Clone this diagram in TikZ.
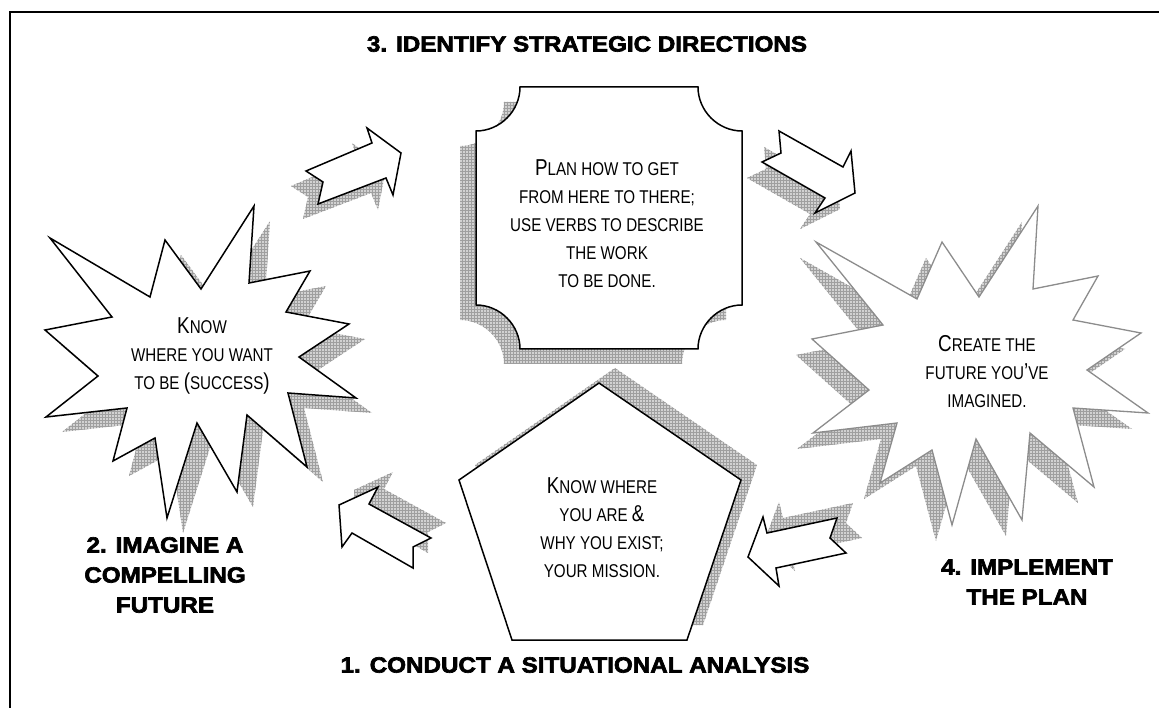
\documentclass[tikz,border=0pt]{standalone}
\usepackage{fontspec}
\setmainfont{Liberation Sans}
\newfontfamily\narrowfont[FakeStretch=0.82]{Liberation Sans}
\newfontfamily\headfont[FakeStretch=1.1,FakeBold=3]{Liberation Sans Bold}
\usetikzlibrary{patterns}

\newcommand\bigletter[1]{{\fontsize{23}{28}\selectfont #1}}

\tikzset{
  hatchshadow/.style={fill=gray!35, postaction={pattern=grid, pattern color=gray!75}},
  outline/.style={draw=black, line width=1.5, fill=white},
  greyline/.style={draw=black!45, line width=1.3, fill=white},
  inside/.style={font=\narrowfont\fontsize{18.5}{28}\selectfont, align=center, inner sep=0},
  heading/.style={font=\headfont\fontsize{22}{30}\selectfont, align=center, inner sep=0}
}

% outlines, in pixels of the page
\def\burstleft{(50,238) -- (150,297) -- (165,240) -- (201,289) -- (254,206) -- (249,283) -- (310,271) -- (286,312) -- (349,324) -- (299,357) -- (356,398) -- (288,393) -- (307,467) -- (247,415) -- (237,492) -- (197,423) -- (167,518) -- (155,438) -- (113,461) -- (127,408) -- (46,417) -- (98,376) -- (45,330) -- (112,317) -- cycle}
\def\burstright{(816,242) -- (917,299) -- (942,242) -- (979,297) -- (1038,206) -- (1033,289) -- (1098,276) -- (1073,320) -- (1141,333) -- (1087,370) -- (1148,413) -- (1073,408) -- (1094,487) -- (1030,433) -- (1022,520) -- (976,439) -- (952,525) -- (932,450) -- (880,483) -- (897,423) -- (813,433) -- (869,390) -- (812,339) -- (883,325) -- cycle}
\def\planbox{(520,87) -- (698,87) .. controls (698,111) and (718,131) .. (742,131) -- (742,305) .. controls (718,305) and (698,325) .. (698,349) -- (520,349) .. controls (520,325) and (500,305) .. (476,305) -- (476,131) .. controls (500,131) and (520,111) .. (520,87) -- cycle}
\def\pentagon{(599,383) -- (741,480) -- (687,640) -- (512,640) -- (459,480) -- cycle}
\def\arrowA{(306,171) -- (323,182) -- (318,204) -- (386,178) -- (393,195) -- (401,153) -- (367,128) -- (372,143) -- cycle}
\def\arrowB{(762,162) -- (781,153) -- (779,131) -- (843,167) -- (851,151) -- (855,193) -- (815,213) -- (825,198) -- cycle}
\def\arrowC{(339,505) -- (378,487) -- (369,504) -- (431,538) -- (413,547) -- (413,568) -- (352,533) -- (342,547) -- cycle}
\def\arrowD{(748,557) -- (763,517) -- (767,533) -- (837,518) -- (830,538) -- (846,553) -- (776,568) -- (779,586) -- cycle}

\begin{document}
\begin{tikzpicture}[x=1pt, y=-1pt]
    \path[use as bounding box] (0,0) rectangle (1159,708);
    \draw[line width=2] (10,708) -- (10,12) -- (1159,12);

    % shadows
    \path[hatchshadow, shift={(16,15)}] \burstleft;
    \path[hatchshadow, shift={(-16,16)}] \burstright;
    \path[hatchshadow, shift={(-16,15)}] \planbox;
    \path[hatchshadow, shift={(16,-15)}] \pentagon;
    \path[hatchshadow, shift={(-15,15)}] \arrowA;
    \path[hatchshadow, shift={(-15,16)}] \arrowB;
    \path[hatchshadow, shift={(15,-15)}] \arrowC;
    \path[hatchshadow, shift={(16,-15)}] \arrowD;

    \path[outline] \burstleft;
    \path[greyline] \burstright;
    \path[outline] \planbox;
    \path[outline] \pentagon;
    \path[outline] \arrowA;
    \path[outline] \arrowB;
    \path[outline] \arrowC;
    \path[outline] \arrowD;

    \node[inside] (future) at (202,356) {\bigletter{K}NOW\\WHERE YOU WANT\\TO BE \bigletter{(}SUCCESS\bigletter{)}};
    \node[inside] (plan) at (607,224) {\bigletter{P}LAN HOW TO GET\\FROM HERE TO THERE;\\USE VERBS TO DESCRIBE\\THE WORK\\TO BE DONE.};
    \node[inside] (mission) at (602,528) {\bigletter{K}NOW WHERE\\YOU ARE \bigletter{\&}\\WHY YOU EXIST;\\YOUR MISSION.};
    \node[inside] (create) at (987,372) {\bigletter{C}REATE THE\\FUTURE YOU\bigletter{’}VE\\IMAGINED.};

    \node[heading] (step3) at (587,44) {3. IDENTIFY STRATEGIC DIRECTIONS};
    \node[heading] (step1) at (575,665) {1. CONDUCT A SITUATIONAL ANALYSIS};
    \node[heading] (step2) at (165,575) {2. IMAGINE A\\COMPELLING\\FUTURE};
    \node[heading] (step4) at (1027,582) {4. IMPLEMENT\\THE PLAN};
\end{tikzpicture}
\end{document}
